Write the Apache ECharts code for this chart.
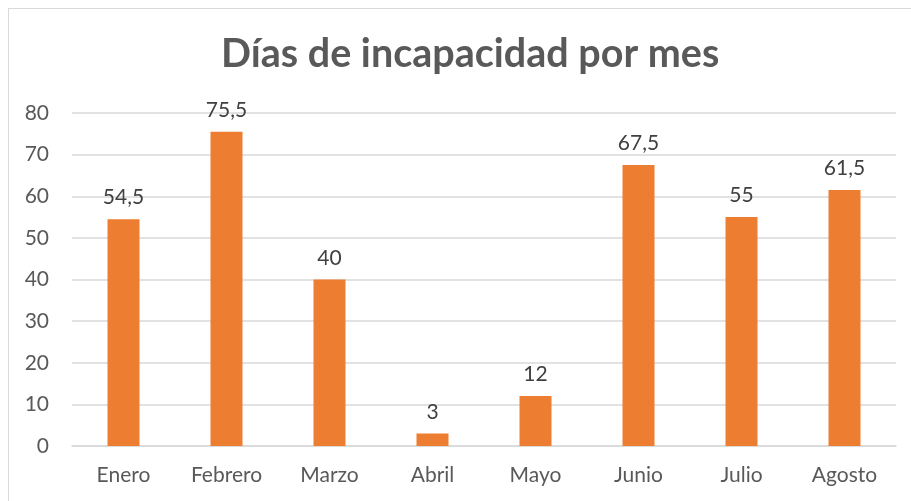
<!DOCTYPE html>
<html lang="es">
<head>
    <meta charset="UTF-8">
    <title>Días de incapacidad por mes</title>
    <style>
        html, body { margin: 0; padding: 0; background: #fff; }
        #main {
            width: 911px;
            height: 501px;
        }
        #frame {
            position: absolute;
            left: 8px;
            top: 8px;
            width: 940px;
            height: 520px;
            border: 1px solid #d9d9d9;
            pointer-events: none;
        }
    </style>
</head>
<body>
<div id="main"></div>
<div id="frame"></div>
<script src="https://cdn.jsdelivr.net/npm/echarts@6/dist/echarts.min.js"></script>
<script>
    // datos
    const meses = ['Enero', 'Febrero', 'Marzo', 'Abril', 'Mayo', 'Junio', 'Julio', 'Agosto'];
    const dias = [54.5, 75.5, 40, 3, 12, 67.5, 55, 61.5];

    const myChart = echarts.init(document.getElementById('main'));

    myChart.setOption({
        animation: false,
        textStyle: { fontFamily: 'Lato' },
        title: {
            text: 'Días de incapacidad por mes',
            left: 216,
            top: 29,
            textStyle: {
                fontFamily: 'Lato',
                fontSize: 39.5,
                fontWeight: 'bold',
                color: '#595959'
            }
        },
        grid: {
            left: 72,
            right: 15,
            top: 113,
            bottom: 55
        },
        xAxis: {
            type: 'category',
            data: meses,
            axisLine: { show: true, lineStyle: { color: '#d9d9d9', width: 1.5 } },
            axisTick: { show: false },
            axisLabel: {
                color: '#595959',
                fontSize: 21,
                margin: 19
            }
        },
        yAxis: {
            type: 'value',
            min: 0,
            max: 80,
            interval: 10,
            axisLine: { show: false },
            axisTick: { show: false },
            axisLabel: {
                color: '#595959',
                fontSize: 21,
                margin: 23
            },
            splitLine: { lineStyle: { color: '#d9d9d9', width: 1.5 } }
        },
        series: [{
            type: 'bar',
            data: dias,
            barWidth: 32,
            itemStyle: { color: '#ED7D31' },
            label: {
                show: true,
                position: 'top',
                distance: 11,
                color: '#404040',
                fontSize: 21,
                formatter: p => String(p.value).replace('.', ',')
            }
        }]
    });
</script>
</body>
</html>
